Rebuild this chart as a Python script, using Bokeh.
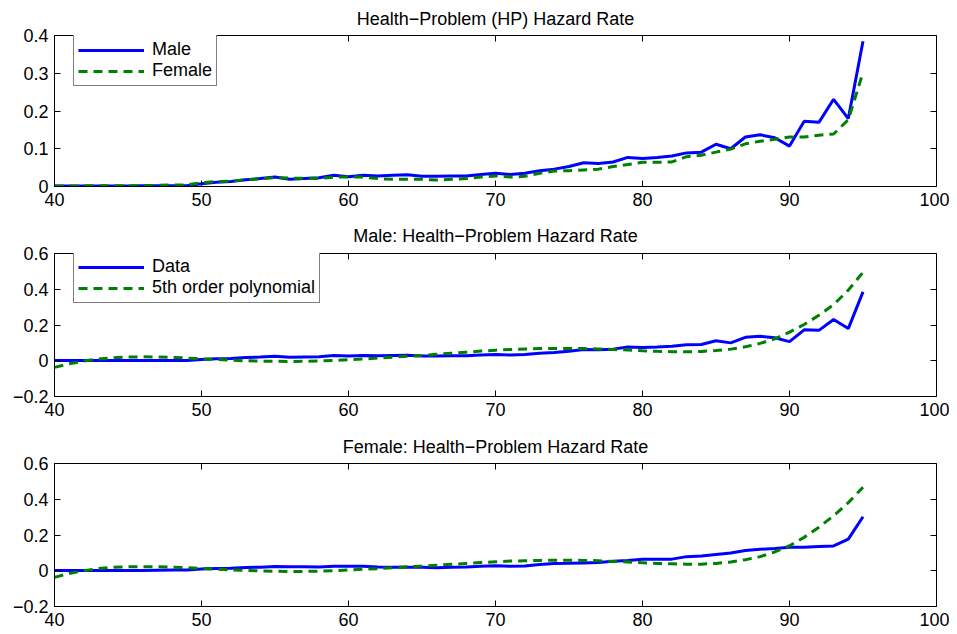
from bokeh.plotting import figure
from bokeh.models import (Range1d, FixedTicker, LinearAxis, CustomJSTickFormatter,
                          Legend, LegendItem)
from bokeh.layouts import column
from bokeh.embed import file_html
from bokeh.resources import INLINE

# ---------------- data ----------------
ages = list(range(40, 96))

male_hp = [0.001, 0.001, 0.001, 0.001, 0.001, 0.001, 0.002, 0.002, 0.002, 0.002,
           0.007, 0.011, 0.013, 0.018, 0.021, 0.025, 0.019, 0.021, 0.023, 0.030,
           0.026, 0.030, 0.028, 0.030, 0.031, 0.027, 0.027, 0.028, 0.028, 0.032,
           0.035, 0.032, 0.035, 0.042, 0.046, 0.053, 0.063, 0.061, 0.065, 0.077,
           0.074, 0.077, 0.081, 0.089, 0.091, 0.112, 0.100, 0.131, 0.137, 0.129,
           0.107, 0.173, 0.170, 0.231, 0.180, 0.385]

female_hp = [0.001, 0.001, 0.002, 0.002, 0.002, 0.002, 0.002, 0.003, 0.004, 0.004,
             0.010, 0.013, 0.014, 0.018, 0.020, 0.024, 0.022, 0.022, 0.021, 0.025,
             0.025, 0.025, 0.021, 0.019, 0.019, 0.019, 0.017, 0.019, 0.021, 0.025,
             0.028, 0.025, 0.027, 0.035, 0.041, 0.042, 0.044, 0.046, 0.053, 0.058,
             0.064, 0.064, 0.065, 0.079, 0.083, 0.091, 0.099, 0.113, 0.120, 0.125,
             0.131, 0.131, 0.136, 0.139, 0.177, 0.302]

male_poly = [-0.037, -0.017, -0.002, 0.010, 0.017, 0.021, 0.022, 0.021, 0.019, 0.015,
             0.011, 0.007, 0.003, 0.000, -0.002, -0.003, -0.004, -0.003, -0.001, 0.002,
             0.006, 0.010, 0.015, 0.020, 0.025, 0.030, 0.036, 0.042, 0.048, 0.054,
             0.059, 0.063, 0.066, 0.068, 0.069, 0.069, 0.068, 0.066, 0.063, 0.060,
             0.056, 0.053, 0.051, 0.050, 0.052, 0.057, 0.065, 0.078, 0.097, 0.123,
             0.160, 0.203, 0.254, 0.314, 0.395, 0.495]

female_poly = [-0.037, -0.015, 0.000, 0.012, 0.019, 0.022, 0.023, 0.022, 0.020, 0.017,
               0.013, 0.009, 0.005, 0.002, -0.001, -0.003, -0.004, -0.004, -0.002, 0.000,
               0.004, 0.008, 0.012, 0.017, 0.022, 0.026, 0.031, 0.036, 0.041, 0.046,
               0.050, 0.054, 0.056, 0.058, 0.059, 0.059, 0.058, 0.056, 0.052, 0.049,
               0.045, 0.041, 0.039, 0.037, 0.037, 0.041, 0.049, 0.062, 0.079, 0.105,
               0.140, 0.187, 0.243, 0.308, 0.381, 0.467]

x_ticks = [40, 50, 60, 70, 80, 90, 100]
y_ticks_top = [0, 0.1, 0.2, 0.3, 0.4]
y_ticks_fit = [-0.2, 0, 0.2, 0.4, 0.6]

titles = ["Health\u2212Problem (HP) Hazard Rate",
          "Male: Health\u2212Problem Hazard Rate",
          "Female: Health\u2212Problem Hazard Rate"]

# ---------------- styling ----------------
FONT = "Liberation Sans"
BLUE = "#0000ff"
GREEN = "#008000"
TICK_FS = "18px"

yfmt_code = """
if (Math.abs(tick) < 1e-9) { return "0"; }
var s = Math.abs(tick).toFixed(1);
return (tick < 0 ? "\\u2212" : "") + s;
"""


def style_axis(ax, show_labels):
    ax.major_tick_in = 6
    ax.major_tick_out = 0
    ax.minor_tick_in = 0
    ax.minor_tick_out = 0
    ax.axis_line_color = "black"
    ax.axis_line_width = 1
    ax.major_tick_line_color = "black"
    ax.major_tick_line_width = 1
    if show_labels:
        ax.major_label_text_font = FONT
        ax.major_label_text_font_size = TICK_FS
        ax.major_label_text_color = "black"
        ax.major_label_standoff = 6
    else:
        ax.major_label_text_font_size = "0px"
        ax.major_label_standoff = 0
        ax.major_label_text_alpha = 0


def make_fig(title, frame_h, top_b, bot_b, y_lo, y_hi, y_ticks, t_standoff):
    p = figure(frame_width=882, frame_height=frame_h,
               output_backend="svg", toolbar_location=None,
               x_range=Range1d(40, 100), y_range=Range1d(y_lo, y_hi),
               x_axis_type=None, y_axis_type=None,
               min_border_left=54, min_border_right=13,
               min_border_top=top_b, min_border_bottom=bot_b)
    p.outline_line_color = None
    p.grid.visible = False
    p.background_fill_color = "white"
    p.border_fill_color = "white"

    yfmt = CustomJSTickFormatter(code=yfmt_code)
    for loc, show in (("below", True), ("above", False)):
        ax = LinearAxis(ticker=FixedTicker(ticks=x_ticks))
        style_axis(ax, show)
        p.add_layout(ax, loc)
    for loc, show in (("left", True), ("right", False)):
        ax = LinearAxis(ticker=FixedTicker(ticks=y_ticks), formatter=yfmt)
        style_axis(ax, show)
        p.add_layout(ax, loc)

    p.title.text = title
    p.title.align = "center"
    p.title.text_font = FONT
    p.title.text_font_size = "18px"
    p.title.text_font_style = "normal"
    p.title.text_color = "black"
    p.title.standoff = t_standoff
    return p


def add_legend(p, items, y_off):
    leg = Legend(items=items, location=(19, y_off))
    leg.label_text_font = FONT
    leg.label_text_font_size = "18px"
    leg.label_text_color = "black"
    leg.border_line_color = "black"
    leg.border_line_width = 1
    leg.background_fill_color = "white"
    leg.background_fill_alpha = 1
    leg.padding = 4
    leg.spacing = 0
    leg.margin = 0
    leg.label_height = 20
    leg.glyph_height = 20
    leg.glyph_width = 66
    leg.label_standoff = 8
    p.add_layout(leg)


# Panel 1
p1 = make_fig(titles[0], 151, 35, 30, 0, 0.4, y_ticks_top, 13)
r1 = p1.line(ages, male_hp, line_color=BLUE, line_width=3)
r2 = p1.line(ages, female_hp, line_color=GREEN, line_width=3, line_dash="9 6")
add_legend(p1, [LegendItem(label="Male", renderers=[r1]),
                LegendItem(label="Female", renderers=[r2])], 151 - 48 - 3)

# Panel 2
p2 = make_fig(titles[1], 143, 37, 30, -0.2, 0.6, y_ticks_fit, 15)
r3 = p2.line(ages, male_hp, line_color=BLUE, line_width=3)
r4 = p2.line(ages, male_poly, line_color=GREEN, line_width=3, line_dash="9 6")
add_legend(p2, [LegendItem(label="Data", renderers=[r3]),
                LegendItem(label="5th order polynomial", renderers=[r4])], 143 - 48 - 2)

# Panel 3
p3 = make_fig(titles[2], 143, 37, 26, -0.2, 0.6, y_ticks_fit, 14)
p3.line(ages, female_hp, line_color=BLUE, line_width=3)
p3.line(ages, female_poly, line_color=GREEN, line_width=3, line_dash="9 6")

layout = column(p1, p2, p3, spacing=0)

open("out.html", "w").write(file_html(layout, INLINE))
